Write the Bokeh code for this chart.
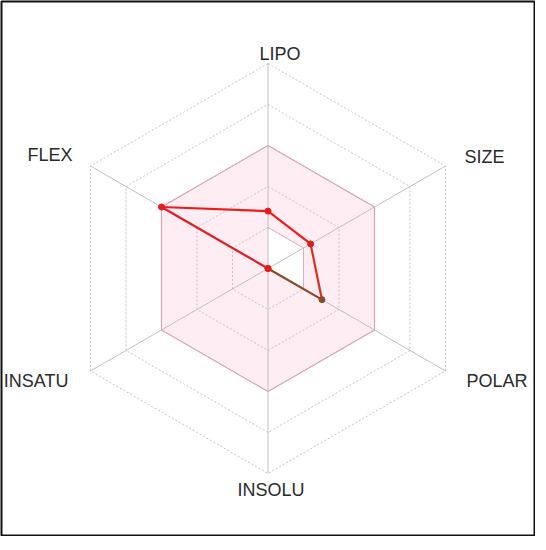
import numpy as np
from bokeh.plotting import figure
from bokeh.models import Range1d, ColumnDataSource
from bokeh.embed import file_html
from bokeh.resources import INLINE
from bokeh.core.properties import value

# ---- data ----
axes_names = ["LIPO", "SIZE", "POLAR", "INSOLU", "INSATU", "FLEX"]
angles_deg = [90, 30, -30, -90, -150, 150]
compound = [1.4, 1.2, 1.52, 0.0, 0.0, 3.0]      # ring units (0-5)
range_low = [1, 1, 1, 0, 0, 0]                   # optimal range (pink) lower bound
range_high = [3, 3, 3, 3, 3, 3]                  # optimal range upper bound
rings = [1, 2, 3, 4, 5]
seg_colors = ["#ee1c1c", "#d8301c", "#8a4a2a", "#ee1c1c", "#e01c24", "#ee1c1c"]
point_colors = ["#e81c1c", "#e01c1c", "#8a4a2a", "#e81c1c", "#e81c1c", "#e81c1c"]

# label placement (style): align, x_offset, y_offset in px
label_align = ["center", "left", "left", "center", "right", "right"]
label_dx = [12, 19, 21, 3, -22, -18]
label_dy = [-10, -9, 10, 16, 10, -11]

ang = np.deg2rad(angles_deg)
cosv, sinv = np.cos(ang), np.sin(ang)

def pts(vals):
    v = np.asarray(vals, dtype=float)
    return list(v * cosv), list(v * sinv)

W, H = 535, 536
unit = 41.0
fw, fh = W - 2, H - 2
cx, cy = 266.5, 267.0
p = figure(width=W, height=H, output_backend="svg", toolbar_location=None,
           x_range=Range1d(-cx / unit, (fw - cx) / unit),
           y_range=Range1d(-(fh - cy) / unit, cy / unit),
           min_border=1)
p.axis.visible = False
p.grid.visible = False
p.outline_line_color = "#111111"
p.outline_line_width = 2
p.background_fill_color = "white"
p.border_fill_color = "white"

# pink optimal region with hole
ox, oy = pts(range_high)
ix, iy = pts(range_low)
p.multi_polygons(xs=[[[ox, ix]]], ys=[[[oy, iy]]], fill_color="#ff80b4", fill_alpha=0.14,
                 line_color=None)

# dotted rings
for r in rings:
    rx, ry = pts([r] * 6)
    p.line(rx + rx[:1], ry + ry[:1], line_color="#c4c4c4", line_width=1, line_dash="2 2")

# pink border of optimal region
p.line(ox + ox[:1], oy + oy[:1], line_color="#dca4b4", line_width=1.2)
p.line(ix[:4], iy[:4], line_color="#dcb4c0", line_width=1)

# spokes
sx, sy = pts([rings[-1]] * 6)
p.segment(x0=[0] * 6, y0=[0] * 6, x1=sx, y1=sy, line_color="#c0c0c0", line_width=1)

# compound polygon
px_, py_ = pts(compound)
x1 = px_[1:] + px_[:1]
y1 = py_[1:] + py_[:1]
p.segment(x0=px_, y0=py_, x1=x1, y1=y1, line_color=seg_colors, line_width=2.2)
p.scatter(px_, py_, size=6, fill_color=point_colors, line_color=point_colors)

# labels
lx, ly = pts([rings[-1]] * 6)
for i, name in enumerate(axes_names):
    p.text(x=[lx[i]], y=[ly[i]], text=[name], text_align=label_align[i],
           text_baseline="middle", x_offset=label_dx[i], y_offset=label_dy[i],
           text_font=value("Liberation Sans"), text_font_size="18px", text_color="#2a2a2a")

open("out.html", "w").write(file_html(p, INLINE))
